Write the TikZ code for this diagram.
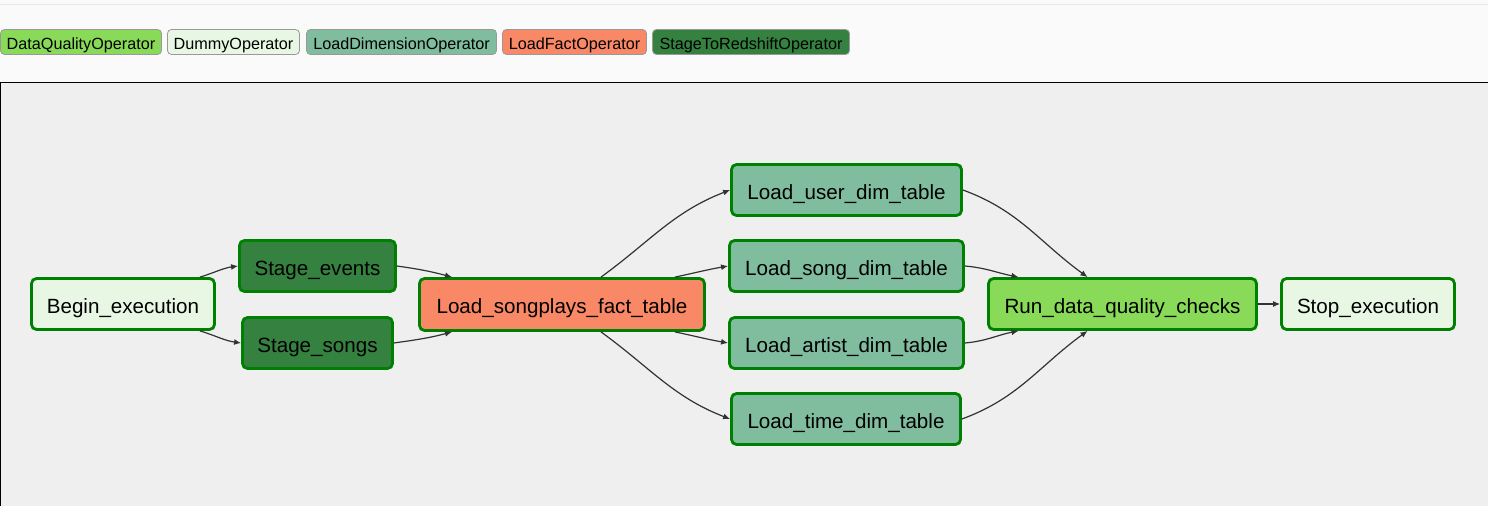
\documentclass[tikz,border=0pt]{standalone}
\usepackage{fontspec}
\setmainfont{Liberation Sans}
\usetikzlibrary{arrows.meta}
\definecolor{dqcol}{HTML}{89DA59}
\definecolor{dummycol}{HTML}{E8F7E4}
\definecolor{dimcol}{HTML}{80BD9E}
\definecolor{factcol}{HTML}{F98866}
\definecolor{stagecol}{HTML}{358140}
\definecolor{taskborder}{HTML}{008000}
\definecolor{edgecol}{HTML}{333333}
\definecolor{pagebg}{HTML}{FAFAFA}
\definecolor{graphbg}{HTML}{EFEFEF}
\definecolor{sepline}{HTML}{E8E8E8}
\definecolor{legendborder}{HTML}{999999}
\begin{document}
\begin{tikzpicture}[x=1pt,y=1pt,
  legendbox/.style={draw=legendborder, line width=0.8pt, rounded corners=4pt, inner sep=0pt,
    minimum height=25pt, text height=14.5pt, text depth=0pt,
    font=\fontsize{16.2}{19}\selectfont, text=black},
  taskbox/.style={draw=taskborder, line width=2.8pt, rounded corners=5pt, inner sep=0pt,
    minimum height=51pt, text height=19pt, text depth=0pt,
    font=\fontsize{20.6}{24}\selectfont, text=black},
  edge/.style={draw=edgecol, line width=1.2pt, -{Latex[length=7pt,width=6pt]}}]
\useasboundingbox (0,0) rectangle (1488,506);
\fill[pagebg] (0,0) rectangle (1488,506);
\draw[sepline, line width=1pt] (0,501) -- (1488,501);
\fill[graphbg] (0,0) rectangle (1488,424);
\draw[black, line width=1pt] (0.5,0) -- (0.5,423.5) -- (1488,423.5);

% legend
\node[legendbox, fill=dqcol, minimum width=161pt] (lg1) at (81,464) {DataQualityOperator};
\node[legendbox, fill=dummycol, minimum width=132pt] (lg2) at (233.5,464) {DummyOperator};
\node[legendbox, fill=dimcol, minimum width=190pt] (lg3) at (401.5,464) {LoadDimensionOperator};
\node[legendbox, fill=factcol, minimum width=144pt] (lg4) at (574.5,464) {LoadFactOperator};
\node[legendbox, fill=stagecol, minimum width=197pt] (lg5) at (751,464) {StageToRedshiftOperator};

% tasks
\node[taskbox, fill=dummycol, minimum width=183pt] (begin) at (123,202) {Begin\_execution};
\node[taskbox, fill=stagecol, minimum width=156pt] (se) at (317.5,240) {Stage\_events};
\node[taskbox, fill=stagecol, minimum width=150pt] (ss) at (317.5,163) {Stage\_songs};
\node[taskbox, fill=factcol, minimum width=285pt, minimum height=52pt] (fact) at (562,201.5) {Load\_songplays\_fact\_table};
\node[taskbox, fill=dimcol, minimum width=230pt] (user) at (846.5,316) {Load\_user\_dim\_table};
\node[taskbox, fill=dimcol, minimum width=234pt] (song) at (846.5,240) {Load\_song\_dim\_table};
\node[taskbox, fill=dimcol, minimum width=234pt] (artist) at (846.5,163) {Load\_artist\_dim\_table};
\node[taskbox, fill=dimcol, minimum width=229pt] (time) at (846,87) {Load\_time\_dim\_table};
\node[taskbox, fill=dqcol, minimum width=268pt] (run) at (1122.5,202) {Run\_data\_quality\_checks};
\node[taskbox, fill=dummycol, minimum width=173pt] (stop) at (1368,202) {Stop\_execution};

% edges
\draw[edge] ([xshift=77pt]begin.north) to[out=17,in=188] (se.west);
\draw[edge] ([xshift=77pt]begin.south) to[out=-17,in=172] (ss.west);
\draw[edge] (se.east) to[out=-8,in=165] ([xshift=-110pt]fact.north);
\draw[edge] (ss.east) to[out=8,in=195] ([xshift=-110pt]fact.south);
\draw[edge] ([xshift=39pt]fact.north) to[out=36,in=201] (user.west);
\draw[edge] ([xshift=113pt]fact.north) to[out=12,in=190] (song.west);
\draw[edge] ([xshift=113pt]fact.south) to[out=-12,in=170] (artist.west);
\draw[edge] ([xshift=39pt]fact.south) to[out=-36,in=159] (time.west);
\draw[edge] (user.east) to[out=-20,in=144] ([xshift=-35pt]run.north);
\draw[edge] (song.east) to[out=-5,in=169] ([xshift=-104pt]run.north);
\draw[edge] (artist.east) to[out=5,in=191] ([xshift=-104pt]run.south);
\draw[edge] (time.east) to[out=20,in=216] ([xshift=-35pt]run.south);
\draw[edge] (run) -- (stop);
\end{tikzpicture}
\end{document}
